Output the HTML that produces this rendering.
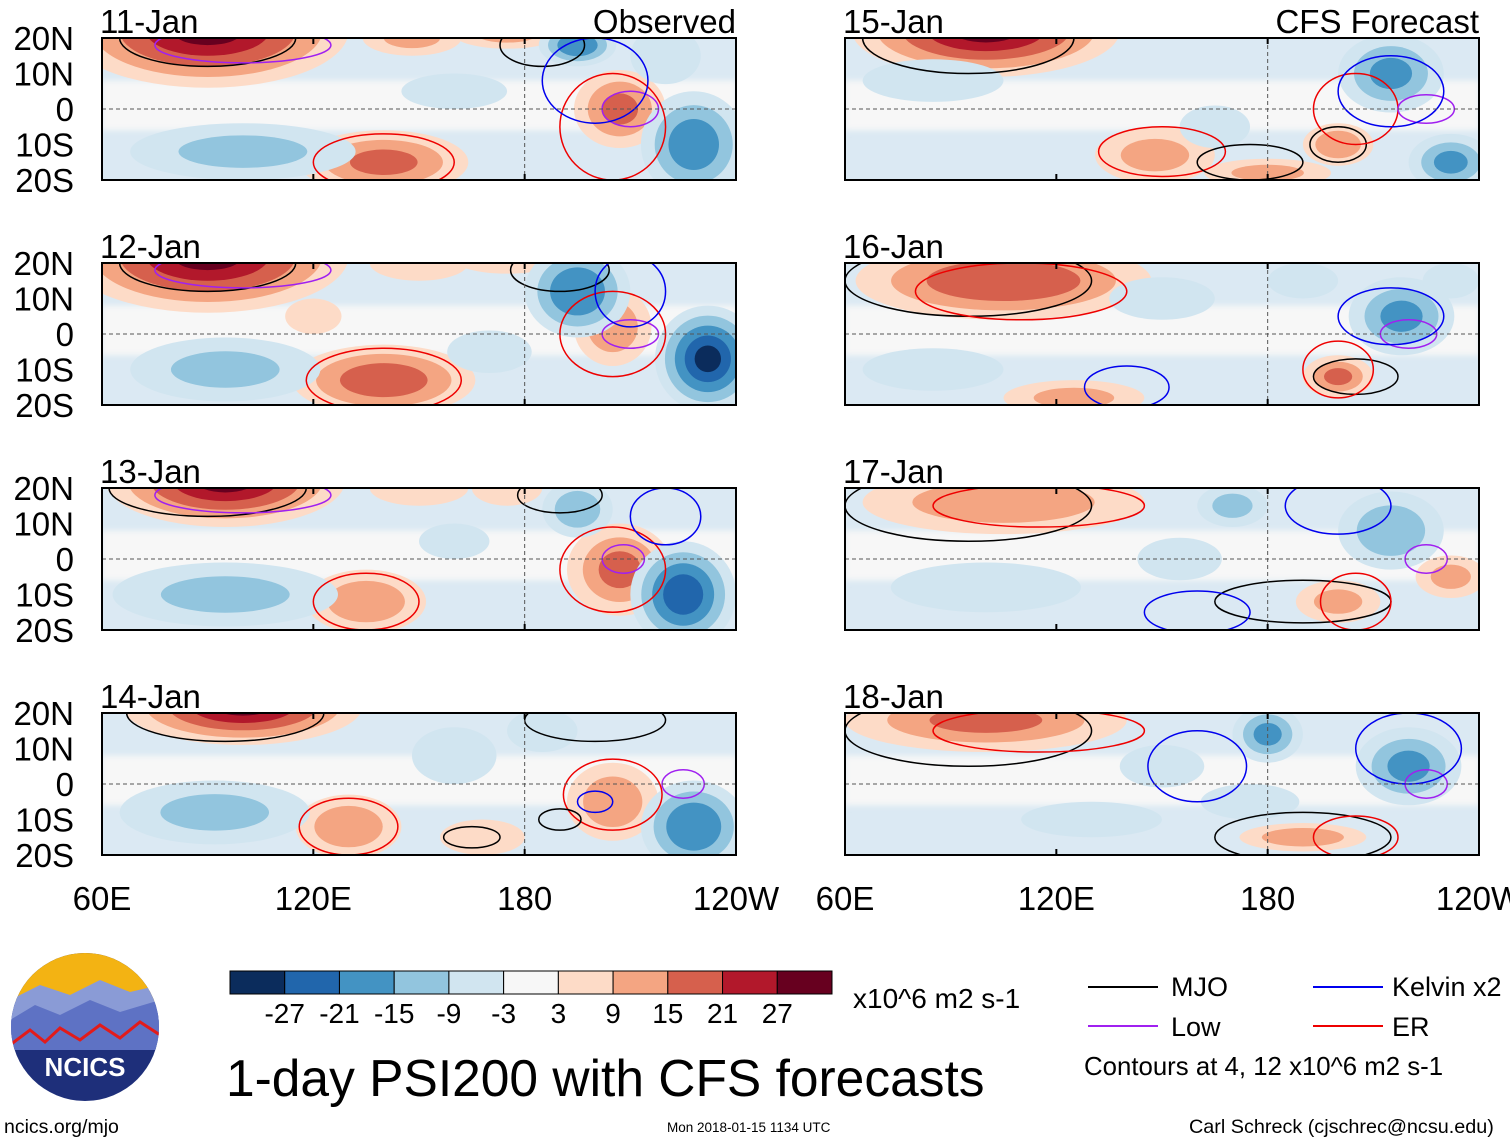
<!DOCTYPE html>
<html><head><meta charset="utf-8">
<style>
body{margin:0;background:#fff;}
svg{display:block;font-family:"Liberation Sans",sans-serif;}
</style></head>
<body>
<svg id="fig" width="1510" height="1142" viewBox="0 0 1510 1142">
<defs>
<filter id="soft" x="-20%" y="-20%" width="140%" height="140%"><feGaussianBlur stdDeviation="3"/></filter>
</defs>
<g id="panels"></g>
<g id="cbar"></g>
<text x="853" y="1008" font-size="28">x10^6 m2 s-1</text>
<g>
<line x1="1088" y1="987" x2="1158" y2="987" stroke="#000" stroke-width="2"/><text x="1171" y="996" font-size="27">MJO</text>
<line x1="1313" y1="987" x2="1383" y2="987" stroke="#0000ee" stroke-width="2"/><text x="1392" y="996" font-size="27">Kelvin x2</text>
<line x1="1088" y1="1026" x2="1158" y2="1026" stroke="#a020f0" stroke-width="2"/><text x="1171" y="1036" font-size="27">Low</text>
<line x1="1313" y1="1026" x2="1383" y2="1026" stroke="#ee0000" stroke-width="2"/><text x="1392" y="1036" font-size="27">ER</text>
<text x="1084" y="1075" font-size="25.8">Contours at 4, 12 x10^6 m2 s-1</text>
</g>
<text x="226" y="1096" font-size="51.5">1-day PSI200 with CFS forecasts</text>
<text x="4" y="1133" font-size="19.5">ncics.org/mjo</text>
<text x="667" y="1132" font-size="13.5">Mon 2018-01-15 1134 UTC</text>
<text x="1189" y="1133" font-size="19.8">Carl Schreck (cjschrec@ncsu.edu)</text>
<g>
<clipPath id="lc"><circle cx="85" cy="1027" r="74"/></clipPath>
<g clip-path="url(#lc)">
<rect x="10" y="952" width="150" height="150" fill="#1e2f7a"/>
<rect x="10" y="952" width="150" height="50" fill="#f3b313"/>
<path d="M10 1000 L40 985 L70 995 L100 980 L130 992 L160 985 L160 1040 L10 1040Z" fill="#8a9bd6"/>
<path d="M10 1020 L35 1005 L60 1015 L90 1000 L120 1012 L160 1000 L160 1050 L10 1050Z" fill="#5e72c4"/>
<path d="M10 1045 L30 1030 L45 1042 L60 1028 L80 1040 L100 1025 L120 1038 L140 1022 L160 1035" fill="none" stroke="#e21b1b" stroke-width="3"/>
</g>
<text x="85" y="1076" font-size="26" font-weight="bold" fill="#fff" text-anchor="middle">NCICS</text>
</g>
</svg>
<script>
// ---- data ----
const levels = [-27,-21,-15,-9,-3,3,9,15,21,27];
const colors = ["#0b2c5c","#2166ac","#4393c3","#92c5de","#d1e5f0","#f7f7f7","#fddbc7","#f4a582","#d6604d","#b2182b","#67001f"];
const cbLabels = ["-27","-21","-15","-9","-3","3","9","15","21","27"];
const panelDates = ["11-Jan","12-Jan","13-Jan","14-Jan","15-Jan","16-Jan","17-Jan","18-Jan"];
const latTicks = ["20N","10N","0","10S","20S"];
const latVals = [20,10,0,-10,-20];
const lonTicks = ["60E","120E","180","120W"];
const lonVals = [60,120,180,240];
// blobs: [lon, lat, rxDeg, ryDeg, value]
const blobs = [
 [[90,22,40,16,27],[148,20,14,5,9],[175,21,15,4,9],[140,-15,24,9,15],[207,0,13,11,15],[195,18,11,6,-20],[228,-10,15,15,-18],[100,-12,32,8,-9],[160,5,15,5,-5],[220,15,10,8,-8]],
 [[90,22,40,16,27],[150,20,14,5,8],[175,21,15,4,8],[140,-13,26,10,18],[205,2,11,11,12],[195,12,15,13,-20],[232,-7,15,15,-27],[95,-10,27,9,-9],[170,-5,12,6,-6],[120,5,8,5,4]],
 [[95,22,34,13,27],[150,20,14,5,6],[135,-12,17,9,12],[207,-3,15,13,15],[225,-10,15,15,-24],[195,14,10,8,-12],[95,-10,32,9,-9],[160,5,10,5,-6],[175,20,10,5,6]],
 [[100,22,34,11,27],[130,-12,15,9,12],[168,-15,12,5,6],[205,-5,13,11,12],[228,-12,15,13,-20],[160,8,12,8,-8],[92,-8,27,9,-9],[185,15,10,6,-6]],
 [[100,22,38,13,27],[148,-13,17,8,9],[200,-10,10,6,12],[215,10,15,11,-15],[232,-15,12,8,-15],[85,8,20,6,-6],[165,-5,10,6,-4],[180,-18,18,4,9]],
 [[105,15,42,11,20],[125,-18,20,5,9],[200,-12,10,6,15],[218,5,15,11,-15],[150,10,15,6,-8],[190,15,10,5,-6],[232,15,8,5,-8],[85,-10,20,6,-4]],
 [[105,16,40,9,12],[200,-12,12,6,9],[215,8,15,11,-12],[170,15,10,6,-9],[155,0,12,6,-8],[232,-5,10,6,9],[100,-8,27,7,-4]],
 [[100,18,40,9,15],[190,-15,18,4,12],[180,14,10,8,-15],[220,5,15,11,-15],[150,5,12,6,-6],[130,-10,20,5,-6],[175,-5,14,5,-5]]
];
// contour lines: [lon, lat, rxDeg, ryDeg, type]
const lines = [
 [[90,20,25,8,"m"],[185,18,12,6,"m"],[205,-5,15,15,"e"],[140,-15,20,8,"e"],[210,0,8,5,"l"],[100,18,25,5,"l"],[200,8,15,12,"k"]],
 [[90,20,25,8,"m"],[190,18,14,6,"m"],[205,0,15,12,"e"],[140,-13,22,9,"e"],[210,0,8,4,"l"],[100,18,25,5,"l"],[210,12,10,10,"k"]],
 [[90,20,28,8,"m"],[190,18,12,5,"m"],[205,-3,15,12,"e"],[135,-12,15,8,"e"],[208,0,6,4,"l"],[100,18,25,5,"l"],[220,12,10,8,"k"]],
 [[95,20,28,8,"m"],[200,18,20,6,"m"],[205,-3,14,10,"e"],[130,-12,14,8,"e"],[225,0,6,4,"l"],[165,-15,8,3,"m"],[190,-10,6,3,"m"],[200,-5,5,3,"k"]],
 [[95,20,30,10,"m"],[200,-10,8,5,"m"],[205,0,12,10,"e"],[150,-12,18,7,"e"],[225,0,8,4,"l"],[175,-15,15,5,"m"],[215,5,15,10,"k"]],
 [[95,15,35,10,"m"],[205,-12,12,5,"m"],[200,-10,10,8,"e"],[110,12,30,8,"e"],[220,0,8,4,"l"],[215,5,15,8,"k"],[140,-15,12,6,"k"]],
 [[95,15,35,10,"m"],[190,-12,25,6,"m"],[205,-12,10,8,"e"],[115,15,30,6,"e"],[225,0,6,4,"l"],[160,-15,15,6,"k"],[200,15,15,8,"k"]],
 [[95,15,35,10,"m"],[190,-15,25,7,"m"],[205,-15,12,6,"e"],[115,15,30,6,"e"],[225,0,6,4,"l"],[220,10,15,10,"k"],[160,5,14,10,"k"]]
];
// ---- layout ----
const cols=[102,845], W=634, rows=[38,263,488,713], H=142;
const lineColors={m:"#000",e:"#ee0000",l:"#a020f0",k:"#0000ee"};
const NS="http://www.w3.org/2000/svg";
function mk(tag,attrs,parent){const e=document.createElementNS(NS,tag);for(const k in attrs)e.setAttribute(k,attrs[k]);parent.appendChild(e);return e;}
function colorFor(v){let i=0;while(i<levels.length&&v>levels[i])i++;return colors[i];}
const root=document.getElementById("panels");
panelDates.forEach((d,p)=>{
 const x0=cols[p<4?0:1], y0=rows[p%4];
 const xs=lon=>x0+(lon-60)/180*W;
 const ys=lat=>y0+(20-lat)/40*H;
 const g=mk("g",{},root);
 
 
 const cid="clip"+p;
 const cp=mk("clipPath",{id:cid},g);mk("rect",{x:x0,y:y0,width:W,height:H},cp);
 const fg=mk("g",{"clip-path":"url(#"+cid+")"},g);
 mk("rect",{x:x0,y:y0,width:W,height:H,fill:"#dbe9f3"},fg);
 mk("rect",{x:x0,y:ys(8),width:W,height:ys(-6)-ys(8),fill:"#f7f7f7",filter:"url(#soft)"},fg);
 blobs[p].forEach(b=>{
  const [lon,lat,rx,ry,v]=b;const s=Math.sign(v);const steps=[3,9,15,21,27];
  steps.forEach((lv,i)=>{ if(Math.abs(v)<lv) return;
   const f=1-(lv-3)/(Math.abs(v)+5);
   const el=mk("ellipse",{cx:xs(lon),cy:ys(lat),rx:rx*W/180*f,ry:ry*H/40*f,fill:colorFor(s*(lv+1))},fg);
   
   
  });
 });
 lines[p].forEach(l=>{
  const el=mk("ellipse",{cx:xs(l[0]),cy:ys(l[1]),rx:l[2]*W/180,ry:l[3]*H/40,fill:"none",stroke:lineColors[l[4]],"stroke-width":1.5},fg);
  
  
 });
 mk("line",{x1:x0,y1:ys(0),x2:x0+W,y2:ys(0),stroke:"#555","stroke-dasharray":"4,3","stroke-width":1},fg);
 mk("line",{x1:xs(180),y1:y0,x2:xs(180),y2:y0+H,stroke:"#555","stroke-dasharray":"4,3","stroke-width":1},fg);
 const fr=mk("rect",{x:x0,y:y0,width:W,height:H,fill:"none",stroke:"#000","stroke-width":2},g);
 
 
 lonVals.forEach(lv=>{mk("line",{x1:xs(lv),y1:y0,x2:xs(lv),y2:y0+6,stroke:"#000","stroke-width":2},g);mk("line",{x1:xs(lv),y1:y0+H,x2:xs(lv),y2:y0+H-6,stroke:"#000","stroke-width":2},g);});
 const t=mk("text",{x:x0-2,y:y0-5,"font-size":33},g);t.textContent=d;
 
 
 if(p===0||p===4){const tt=mk("text",{x:x0+W,y:y0-5,"font-size":33,"text-anchor":"end"},g);tt.textContent=p===0?"Observed":"CFS Forecast";
  
  }
 if(p<4){latVals.forEach((lv,i)=>{const lt=mk("text",{x:74,y:ys(lv)+12,"font-size":33,"text-anchor":"end"},g);lt.textContent=latTicks[i];
  
  });}
 if(p%4===3){lonVals.forEach((lv,i)=>{const lt=mk("text",{x:xs(lv),y:910,"font-size":33,"text-anchor":"middle"},g);lt.textContent=lonTicks[i];
  
  });}
});
const cb=document.getElementById("cbar");const cw=602/11;
colors.forEach((c,i)=>{const r=mk("rect",{x:230+i*cw,y:971,width:cw,height:23,fill:c,stroke:"#000","stroke-width":1},cb);
 
 });
cbLabels.forEach((l,i)=>{const t=mk("text",{x:230+(i+1)*cw,y:1023,"font-size":28,"text-anchor":"middle"},cb);t.textContent=l;
 
 });
</script>
</body></html>
